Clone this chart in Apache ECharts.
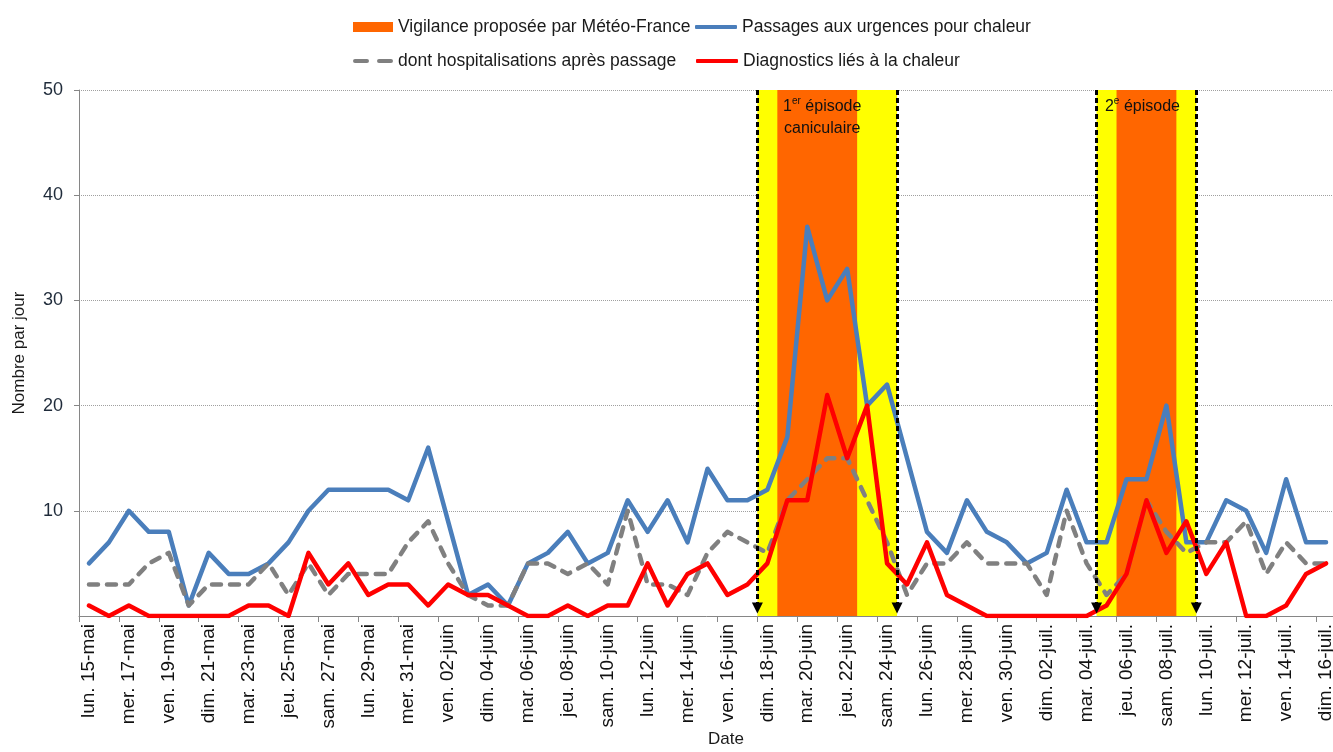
<!DOCTYPE html>
<html><head><meta charset="utf-8">
<script src="https://cdn.jsdelivr.net/npm/echarts@6/dist/echarts.min.js"></script>
<style>html,body{margin:0;padding:0;background:#fff}#c{width:1333px;height:752px}</style>
</head><body><div id="c"></div>
<script>
const categories = [
 'lun. 15-mai','mar. 16-mai','mer. 17-mai','jeu. 18-mai','ven. 19-mai','sam. 20-mai','dim. 21-mai',
 'lun. 22-mai','mar. 23-mai','mer. 24-mai','jeu. 25-mai','ven. 26-mai','sam. 27-mai','dim. 28-mai',
 'lun. 29-mai','mar. 30-mai','mer. 31-mai','jeu. 01-juin','ven. 02-juin','sam. 03-juin','dim. 04-juin',
 'lun. 05-juin','mar. 06-juin','mer. 07-juin','jeu. 08-juin','ven. 09-juin','sam. 10-juin','dim. 11-juin',
 'lun. 12-juin','mar. 13-juin','mer. 14-juin','jeu. 15-juin','ven. 16-juin','sam. 17-juin','dim. 18-juin',
 'lun. 19-juin','mar. 20-juin','mer. 21-juin','jeu. 22-juin','ven. 23-juin','sam. 24-juin','dim. 25-juin',
 'lun. 26-juin','mar. 27-juin','mer. 28-juin','jeu. 29-juin','ven. 30-juin','sam. 01-juil.','dim. 02-juil.',
 'lun. 03-juil.','mar. 04-juil.','mer. 05-juil.','jeu. 06-juil.','ven. 07-juil.','sam. 08-juil.','dim. 09-juil.',
 'lun. 10-juil.','mar. 11-juil.','mer. 12-juil.','jeu. 13-juil.','ven. 14-juil.','sam. 15-juil.','dim. 16-juil.'
];
const passages = [5,7,10,8,8,1,6,4,4,5,7,10,12,12,12,12,11,
  16,9,2,3,1,5,6,8,5,6,11,8,11,7,14,11,11,
  12,17,37,30,33,20,22,15,8,6,11,8,7,5,
  6,12,7,7,13,13,20,7,7,11,10,6,13,7,7];
const hospitalisations = [3,3,3,5,6,1,3,3,3,5,2,5,2,4,4,4,7,
  9,5,2,1,1,5,5,4,5,3,10,3,3,2,6,8,7,
  6,11,13,15,15,11,7,2,5,5,7,5,5,5,
  2,10,5,2,4,11,8,6,7,7,9,4,7,5,5];
const diagnostics = [1,0,1,0,0,0,0,0,1,1,0,6,3,5,2,3,3,
  1,3,2,2,1,0,0,1,0,1,1,5,1,4,5,2,3,
  5,11,11,21,15,20,5,3,7,2,1,0,0,0,
  0,0,0,1,4,11,6,9,4,7,0,0,1,4,5];
const yTicks = [0,10,20,30,40,50];
// Vigilance bands, in day boundaries (index of first day, index after last day)
const yellowBands = [[34,41],[51,56]];
const orangeBands = [[35,39],[52,55]];
const episodeLabels = ['{n|1}{s|er}{n| épisode}\n{n|caniculaire}', '{n|2}{s|e}{n| épisode}'];
const arrowLines = [34,41,51,56];
const names = ['Vigilance proposée par Météo-France','Passages aux urgences pour chaleur',
               'dont hospitalisations après passage','Diagnostics liés à la chaleur'];

const FONT = "'Liberation Sans',Arial,sans-serif";

const chart = echarts.init(document.getElementById('c'), null, {renderer:'canvas'});
const legendText = {fontFamily: FONT, fontSize: 17.5, color: '#1a1a1a'};
function lg(item, left, top, w, h){
  return {show:true, left:left, top:top, orient:'horizontal', padding:0,
    itemWidth:w, itemHeight:h, selectedMode:false, textStyle:legendText, data:[item]};
}
const option = {
  animation:false,
  backgroundColor:'#ffffff',
  legend:[
    lg({name:names[0], icon:'rect', itemStyle:{color:'#FF6600'}}, 353, 18, 40, 10),
    lg({name:names[1], icon:'roundRect', itemStyle:{color:'#4A7EBB'}}, 695, 18, 42, 4),
    lg({name:names[2], icon:'path://M2,0h12a2,2 0 0 1 0,4h-12a2,2 0 0 1 0,-4z M26,0h12a2,2 0 0 1 0,4h-12a2,2 0 0 1 0,-4z', itemStyle:{color:'#808080'}}, 353, 52, 40, 4),
    lg({name:names[3], icon:'roundRect', itemStyle:{color:'#FF0000'}}, 696, 52, 42, 4)
  ],
  grid:{left:79, right:-3, top:90, bottom:136, containLabel:false, outerBoundsMode:'none'},
  xAxis:[{
    type:'category', data:categories, boundaryGap:true,
    axisLine:{show:true, lineStyle:{color:'#868686', width:1}},
    axisTick:{show:true, interval:1, length:6, inside:false, lineStyle:{color:'#868686'}},
    axisLabel:{show:true, interval:1, rotate:90, margin:8, fontFamily:FONT, fontSize:19, color:'#111111', hideOverlap:false},
    splitLine:{show:false}
  },{
    type:'value', min:0, max:63, show:false
  }],
  yAxis:{
    type:'value', min:yTicks[0], max:yTicks[yTicks.length-1], interval:10,
    name:'Nombre par jour', nameLocation:'middle', nameGap:51, nameRotate:90,
    nameTextStyle:{fontFamily:FONT, fontSize:17, color:'#1a1a1a'},
    axisLine:{show:true, lineStyle:{color:'#868686'}},
    axisTick:{show:true, length:5, lineStyle:{color:'#868686'}},
    axisLabel:{showMinLabel:false, margin:16, fontFamily:FONT, fontSize:18, color:'#1f2b3a'},
    splitLine:{show:true, lineStyle:{type:'dotted', color:'#a0a0a0', width:1}}
  },
  graphic:[{type:'text', left:708, top:731, style:{text:'Date', font:"17px 'Liberation Sans', Arial, sans-serif", fill:'#1a1a1a'}}],
  series:[
    {
      name:names[0], type:'line', xAxisIndex:1, data:[], symbol:'none', z:1,
      itemStyle:{color:'#FF6600'}, lineStyle:{width:0},
      markArea:{silent:true, z:1,
        data: yellowBands.map(b => [{xAxis:b[0], yAxis:0, itemStyle:{color:'#FFFF00'}}, {xAxis:b[1], yAxis:50}])
          .concat(orangeBands.map((b,i) => [{xAxis:b[0], yAxis:0, itemStyle:{color:'#FF6600'},
             label:{show:true, position:'insideTop', distance:6, offset:[i===0?5:-4,0], formatter:episodeLabels[i], color:'#111',
               rich:{n:{fontFamily:FONT, fontSize:16, color:'#111', lineHeight:22},
                     s:{fontFamily:FONT, fontSize:10, color:'#111', verticalAlign:'top', lineHeight:22}}}},
             {xAxis:b[1], yAxis:50}]))
      }
    },
    {name:names[1], type:'line', data:passages, symbol:'none', showSymbol:false, z:3,
      itemStyle:{color:'#4A7EBB'}, lineStyle:{color:'#4A7EBB', width:4.5, cap:'round', join:'round'}},
    {name:names[2], type:'line', data:hospitalisations, symbol:'none', showSymbol:false, z:3,
      itemStyle:{color:'#808080'}, lineStyle:{color:'#808080', width:4.5, type:[9,9], cap:'round', join:'round'}},
    {name:names[3], type:'line', data:diagnostics, symbol:'none', showSymbol:false, z:4,
      itemStyle:{color:'#FF0000'}, lineStyle:{color:'#FF0000', width:4.5, cap:'round', join:'round'}},
    {
      name:'_arrows', type:'line', xAxisIndex:1, data:[], symbol:'none', z:5, legendHoverLink:false,
      markLine:{silent:true, z:5, symbol:['none','triangle'], symbolSize:[11,11],
        label:{show:false},
        lineStyle:{color:'#000', width:3, type:[5,3]},
        data: arrowLines.map(x => [{coord:[x,50]}, {coord:[x,0.75]}])
      }
    }
  ]
};
chart.setOption(option);
</script></body></html>
